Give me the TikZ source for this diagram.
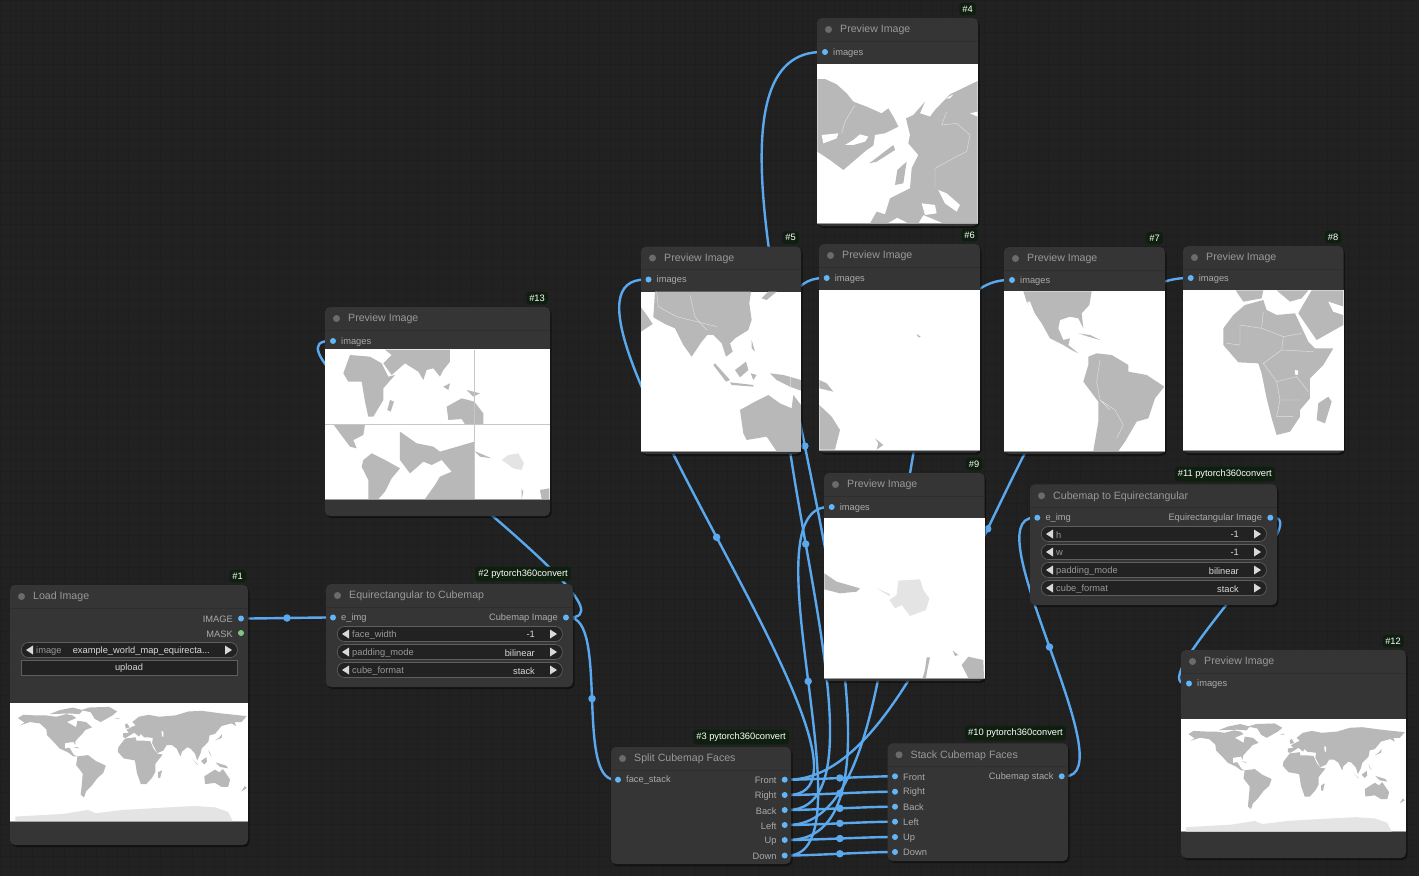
\documentclass[tikz,border=0pt]{standalone}
\usepackage{fontspec}
\setmainfont{Liberation Sans}
\usetikzlibrary{calc,positioning,shadows}

\definecolor{bgdark}{HTML}{212121}
\definecolor{gridc}{HTML}{1E1E1E}
\definecolor{panelc}{HTML}{353535}
\definecolor{sepc}{HTML}{2E2E2E}
\definecolor{titlec}{HTML}{999999}
\definecolor{labelc}{HTML}{ABABAB}
\definecolor{linkc}{HTML}{5AA9EE}
\definecolor{portc}{HTML}{64B5F6}
\definecolor{maskc}{HTML}{81C784}
\definecolor{badgec}{HTML}{0F1F0F}
\definecolor{pillc}{HTML}{222222}
\definecolor{pilld}{HTML}{5E5E5E}
\definecolor{landc}{HTML}{B8B8B8}
\definecolor{icec}{HTML}{E4E4E4}

\pgfdeclarelayer{bg}
\pgfdeclarelayer{wires}
\pgfsetlayers{bg,wires,main}

\tikzset{
	panelbox/.style={fill=panelc,rounded corners=5pt,inner sep=0pt,outer sep=0pt,anchor=north west,
		drop shadow={shadow xshift=1.5pt,shadow yshift=-2pt,fill=black,opacity=.45}},
	imgbox/.style={fill=white,inner sep=0pt,outer sep=0pt,anchor=north west},
	titletext/.style={text=titlec,anchor=west,inner sep=0pt,yshift=-.7pt,font=\fontsize{10.6}{12}\selectfont},
	titledot/.style={circle,fill=white!42!black,inner sep=0pt,minimum size=7pt},
	badge/.style={fill=badgec,text=white,rounded corners=3pt,inner xsep=3pt,inner ysep=3pt,anchor=south east,font=\fontsize{9.3}{10}\selectfont},
	portdot/.style={circle,fill=portc,inner sep=0pt,outer sep=0pt,minimum size=6pt},
	portlabel/.style={text=labelc,inner sep=0pt,yshift=-.8pt,font=\fontsize{9.3}{11}\selectfont},
	pillbox/.style={fill=pillc,draw=pilld,line width=.7pt,rounded corners=7pt,inner sep=0pt,minimum height=15pt,anchor=west},
	pillarrow/.style={fill=white!85!black},
	pillvalue/.style={text=white!85!black,inner sep=0pt,anchor=east,yshift=-.7pt,font=\fontsize{9.3}{11}\selectfont},
	pilllabel/.style={text=titlec,inner sep=0pt,anchor=west,yshift=-.7pt,font=\fontsize{9.3}{11}\selectfont},
	link/.style={draw=linkc,line width=2.4pt},
	linkdot/.style={circle,fill=linkc,inner sep=0pt,minimum size=7.5pt},
	land/.style={fill=landc},
	ice/.style={fill=icec},
	borderline/.style={draw=white!88!black,line width=.45pt},
}

% panel: name, left, top, right, bottom, title, badge
\newcommand{\panel}[7]{
	\node[panelbox,minimum width={(#4-#2)*1pt},minimum height={(#5-#3)*1pt}] (#1) at (#2,#3) {};
	\draw[sepc,line width=.6pt] (#2,#3+23) -- (#4,#3+23);
	\node[titledot] (#1dot) at (#2+11.5,#3+11.5) {};
	\node[titletext] (#1title) at (#2+23,#3+11.5) {#6};
	\node[badge] (#1badge) at ([xshift=-2pt,yshift=2.5pt]#1.north east) {#7};
}
% picture of a panel: name, left, top, right, bottom
\newcommand{\picbox}[5]{
	\node[imgbox,minimum width={(#4-#2)*1pt},minimum height={(#5-#3)*1pt}] (#1) at (#2,#3) {};
	\draw[white!62!black,line width=.8pt] (#2,#5) -- (#4,#5);
}
\newcommand{\inport}[4]{
	\node[portdot] (#1) at (#2,#3) {};
	\node[portlabel,right=5pt of #1] (#1text) {#4};
}
\newcommand{\outport}[4]{
	\node[portdot] (#1) at (#2,#3) {};
	\node[portlabel,left=5pt of #1] (#1text) {#4};
}
% widget: name, left, right, y, label, value
\newcommand{\pill}[6]{
	\node[pillbox,minimum width={(#3-#2)*1pt}] (#1) at (#2,#4) {};
	\fill[pillarrow] (#2+5,#4) -- (#2+12,#4-4.5) -- (#2+12,#4+4.5) -- cycle;
	\fill[pillarrow] (#3-5,#4) -- (#3-12,#4-4.5) -- (#3-12,#4+4.5) -- cycle;
	\node[pilllabel] (#1label) at (#2+15,#4) {#5};
	\node[pillvalue] (#1value) at (#3-27,#4) {#6};
}
\newcommand{\wire}[2]{
	\begin{pgfonlayer}{wires}
	\draw[link] let \p1=(#1),\p2=(#2),\n1={veclen(\x2-\x1,\y2-\y1)*0.25} in
		(#1) .. controls (\x1+\n1,\y1) and (\x2-\n1,\y2) .. (#2) node[pos=0.5,linkdot] {};
	\end{pgfonlayer}
}
% rough continents, in degrees
\newcommand{\worldland}{
	\fill[ice] (-172,-90) -- (-172,-83) -- (-100,-79) -- (-62,-73) -- (-50,-78) -- (-10,-73) -- (60,-69) -- (100,-67) -- (130,-69) -- (150,-76) -- (157,-90) -- cycle;
	\fill[land] (-168,66) -- (-160,71) -- (-140,70) -- (-125,70) -- (-110,68) -- (-95,72) -- (-85,70) -- (-80,66) -- (-94,60) -- (-85,55) -- (-80,52) -- (-78,62) -- (-65,60) -- (-56,52) -- (-66,48) -- (-70,43) -- (-75,38) -- (-81,31) -- (-81,25) -- (-84,30) -- (-97,28) -- (-97,20) -- (-90,21) -- (-87,16) -- (-83,10) -- (-78,8) -- (-84,8) -- (-92,14) -- (-105,20) -- (-115,31) -- (-124,40) -- (-125,49) -- (-135,58) -- (-150,60) -- (-165,55) -- (-158,59) -- cycle
		(-73,78) -- (-60,82) -- (-30,83) -- (-18,76) -- (-25,70) -- (-43,60) -- (-52,65) -- (-58,75) -- cycle
		(-120,72) -- (-105,78) -- (-85,82) -- (-70,78) -- (-75,72) -- (-90,73) -- cycle
		(-78,8) -- (-62,10) -- (-50,1) -- (-35,-6) -- (-39,-17) -- (-48,-25) -- (-57,-37) -- (-65,-45) -- (-68,-54) -- (-73,-50) -- (-71,-30) -- (-70,-18) -- (-80,-5) -- cycle
		(-17,15) -- (-16,22) -- (-6,35) -- (10,37) -- (11,32) -- (20,32) -- (32,31) -- (37,20) -- (43,12) -- (51,11) -- (40,-3) -- (40,-15) -- (35,-24) -- (26,-34) -- (18,-34) -- (12,-17) -- (9,2) -- (-8,5) -- cycle
		(-9,37) -- (-9,43) -- (0,44) -- (-4,48) -- (5,53) -- (10,55) -- (5,60) -- (15,68) -- (30,71) -- (45,68) -- (70,70) -- (90,76) -- (110,77) -- (140,73) -- (178,69) -- (170,60) -- (160,60) -- (162,54) -- (155,58) -- (140,54) -- (130,42) -- (122,40) -- (120,30) -- (110,20) -- (108,12) -- (103,2) -- (100,12) -- (93,20) -- (88,22) -- (80,15) -- (78,8) -- (72,20) -- (65,25) -- (57,25) -- (52,17) -- (43,13) -- (35,28) -- (36,36) -- (28,37) -- (23,37) -- (18,42) -- (15,38) -- (8,44) -- (0,39) -- (-5,36) -- cycle
		(114,-22) -- (130,-12) -- (137,-16) -- (142,-11) -- (153,-27) -- (150,-38) -- (140,-38) -- (130,-32) -- (115,-34) -- cycle
		(109,1) -- (117,7) -- (118,0) -- (114,-4) -- cycle
		(95,5) -- (105,-5) -- (103,-4) -- (97,3) -- cycle
		(131,-1) -- (147,-6) -- (150,-10) -- (138,-8) -- cycle
		(130,32) -- (140,36) -- (141,42) -- (136,36) -- cycle
		(44,-16) -- (50,-13) -- (47,-25) -- (44,-24) -- cycle
		(-5,50) -- (1,52) -- (-3,58) -- (-6,56) -- cycle
		(-22,65) -- (-14,65) -- (-16,66.5) -- cycle
		(120,18) -- (125,8) -- (122,12) -- cycle
		(-84,22) -- (-75,20) -- (-78,22) -- cycle
		(170,-45) -- (175,-37) -- (178,-40) -- cycle;
	\fill[white] (49,46) -- (52,46) -- (52,38) -- (50,38) -- cycle;
}

\begin{document}
\begin{tikzpicture}[x=1pt,y=-1pt]
	\useasboundingbox (0,0) rectangle (1419,876);
	\begin{pgfonlayer}{bg}
		\fill[bgdark] (0,0) rectangle (1419,876);
		\draw[gridc,line width=.5pt,step=10.7pt] (0,0) grid (1419,876);
	\end{pgfonlayer}

	% load image
	\panel{P1}{10}{585}{248}{845}{Load Image}{\#1}
	\outport{o1image}{241}{618.5}{IMAGE}
	\node[portdot,fill=maskc] (o1mask) at (241,633) {};
	\node[portlabel,left=5pt of o1mask] (o1masktext) {MASK};
	\pill{w1image}{21}{237}{650}{image}{example\_world\_map\_equirecta...}
	\node[fill=pillc,draw=pilld,line width=.7pt,inner sep=0pt,minimum width=216pt,minimum height=15pt,text=white!85!black,font=\fontsize{9.3}{11}\selectfont] (w1upload) at (129,668) {upload};
	\picbox{I1}{10}{702.5}{248}{821}
	\begin{scope}[shift={(129,761.7)},x=.661pt,y=.661pt]
		\worldland
	\end{scope}

	% equirectangular to cubemap
	\panel{P2}{326}{584}{573}{687}{Equirectangular to Cubemap}{\#2 pytorch360convert}
	\inport{i2}{333}{617.5}{e\_img}
	\outport{o2}{566}{617.5}{Cubemap Image}
	\pill{w2a}{337}{562}{634}{face\_width}{-1}
	\pill{w2b}{337}{562}{652}{padding\_mode}{bilinear}
	\pill{w2c}{337}{562}{670}{cube\_format}{stack}

	% preview of the stacked cubemap
	\panel{P13}{325}{307}{550}{516}{Preview Image}{\#13}
	\inport{i13}{333}{341}{images}
	\picbox{I13}{325}{349.3}{550}{499.5}
	\begin{scope}[shift={(320,345)},x=.3333pt,y=-.3333pt]
		\fill[land] (90,30) -- (150,35) -- (185,55) -- (205,95) -- (225,90) -- (190,130) -- (190,165) -- (160,215) -- (145,215) -- (135,170) -- (125,110) -- (85,110) -- (70,85) -- cycle
			(195,14) -- (390,14) -- (390,50) -- (370,75) -- (360,95) -- (340,70) -- (320,75) -- (310,105) -- (295,80) -- (255,55) -- (215,90) -- (190,55) -- (215,30) -- cycle
			(210,165) -- (222,170) -- (212,200) -- (202,195) -- cycle
			(380,185) -- (425,160) -- (463,170) -- (490,205) -- (490,238) -- (435,238) -- (425,222) -- (385,225) -- cycle
			(370,125) -- (390,115) -- (385,135) -- cycle
			(440,135) -- (480,145) -- (460,155) -- cycle
			(40,238) -- (135,238) -- (130,270) -- (100,285) -- (110,310) -- (90,305) -- cycle
			(130,345) -- (155,325) -- (195,345) -- (240,370) -- (215,400) -- (195,440) -- (175,462) -- (145,462) -- (145,405) -- (125,365) -- cycle
			(240,260) -- (290,295) -- (340,305) -- (360,320) -- (463,290) -- (463,462) -- (315,462) -- (345,420) -- (360,395) -- (395,380) -- (365,345) -- (335,360) -- (310,350) -- (270,385) -- (240,345) -- cycle
			(463,318) -- (515,340) -- (480,335) -- cycle
			(605,432) -- (610,440) -- (605,462) -- cycle
			(660,435) -- (688,430) -- (688,462) -- (665,462) -- cycle;
		\fill[ice] (565,330) -- (595,325) -- (612,355) -- (605,375) -- (580,370) -- (560,355) -- (545,345) -- cycle;
		\draw[white!78!black,line width=.8pt] (463,14) -- (463,462) (16,238) -- (689,238);
	\end{scope}

	% split faces
	\panel{P3}{611}{747}{791}{864}{Split Cubemap Faces}{\#3 pytorch360convert}
	\inport{i3}{618}{779.7}{face\_stack}
	\outport{o3front}{784.7}{779.7}{Front}
	\outport{o3right}{784.7}{795}{Right}
	\outport{o3back}{784.7}{810}{Back}
	\outport{o3left}{784.7}{825}{Left}
	\outport{o3up}{784.7}{840}{Up}
	\outport{o3down}{784.7}{855.5}{Down}

	% stack faces
	\panel{P10}{887.5}{743.3}{1068}{861}{Stack Cubemap Faces}{\#10 pytorch360convert}
	\inport{i10front}{895}{776.3}{Front}
	\inport{i10right}{895}{791.7}{Right}
	\inport{i10back}{895}{806.7}{Back}
	\inport{i10left}{895}{821.7}{Left}
	\inport{i10up}{895}{837}{Up}
	\inport{i10down}{895}{852}{Down}
	\outport{o10}{1061.7}{776.3}{Cubemap stack}

	% cubemap to equirectangular
	\panel{P11}{1030}{484.3}{1277}{605}{Cubemap to Equirectangular}{\#11 pytorch360convert}
	\inport{i11}{1037.3}{517.7}{e\_img}
	\outport{o11}{1270.3}{517.7}{Equirectangular Image}
	\pill{w11a}{1041}{1266}{534}{h}{-1}
	\pill{w11b}{1041}{1266}{552}{w}{-1}
	\pill{w11c}{1041}{1266}{570}{padding\_mode}{bilinear}
	\pill{w11d}{1041}{1266}{588}{cube\_format}{stack}

	% up
	\panel{P4}{817}{18}{978}{226}{Preview Image}{\#4}
	\inport{i4}{825}{52}{images}
	\picbox{I4}{817}{63.5}{978}{223.5}
	\begin{scope}[shift={(810,55)},x=.3333pt,y=-.3333pt]
		\fill[land] (22,72) -- (45,72) -- (80,88) -- (110,115) -- (130,140) -- (170,155) -- (215,175) -- (235,160) -- (250,185) -- (265,215) -- (225,235) -- (200,265) -- (170,285) -- (135,315) -- (100,345) -- (60,315) -- (22,290) -- cycle
			(178,325) -- (250,270) -- (255,285) -- (200,320) -- cycle
			(288,190) -- (310,180) -- (345,140) -- (330,175) -- (360,185) -- (375,165) -- (420,118) -- (503,78) -- (503,505) -- (400,505) -- (340,480) -- (325,505) -- (295,505) -- (262,488) -- (232,505) -- (180,505) -- (200,470) -- (225,478) -- (240,430) -- (300,400) -- (305,340) -- (325,300) -- (295,265) -- (300,240) -- cycle
			(255,390) -- (262,345) -- (290,320) -- (280,385) -- cycle;
		\fill[white] (385,405) -- (410,415) -- (450,450) -- (440,470) -- (405,445) -- cycle
			(335,445) -- (375,450) -- (380,475) -- (345,480) -- cycle
			(105,270) -- (130,255) -- (150,238) -- (175,245) -- (165,260) -- (130,270) -- cycle
			(35,240) -- (85,235) -- (80,250) -- (40,265) -- cycle
			(195,240) -- (225,235) -- (215,255) -- (190,275) -- cycle
			(480,175) -- (503,170) -- (503,185) -- cycle
			(408,130) -- (430,118) -- (420,130) -- cycle;
		\draw[borderline] (135,150) -- (105,200) -- (95,235) (395,210) -- (440,205) -- (480,240) -- (470,290) -- (430,310) -- (375,340) -- (375,400) (410,170) -- (395,210);
	\end{scope}

	% right
	\panel{P5}{641}{246.5}{801}{454}{Preview Image}{\#5}
	\inport{i5}{648.5}{279.5}{images}
	\picbox{I5}{641}{291.5}{801}{451.7}
	\begin{scope}[shift={(620,220)},x=.3333pt,y=-.3333pt]
		\fill[land] (105,215) -- (393,215) -- (388,250) -- (395,300) -- (385,330) -- (345,355) -- (330,370) -- (338,395) -- (318,410) -- (305,370) -- (280,345) -- (262,345) -- (245,365) -- (215,410) -- (190,375) -- (165,325) -- (135,312) -- (100,292) -- cycle
			(63,262) -- (80,285) -- (98,312) -- (63,335) -- cycle
			(425,235) -- (445,215) -- (470,215) -- (440,240) -- cycle
			(285,430) -- (330,480) -- (318,485) -- (280,435) -- cycle
			(330,487) -- (400,495) -- (400,500) -- (335,495) -- cycle
			(345,450) -- (378,425) -- (385,450) -- (360,472) -- cycle
			(392,460) -- (410,465) -- (400,480) -- cycle
			(395,360) -- (405,395) -- (395,385) -- cycle
			(450,460) -- (490,465) -- (543,480) -- (543,512) -- (510,500) -- (470,480) -- cycle
			(360,570) -- (405,545) -- (445,525) -- (480,550) -- (515,565) -- (520,525) -- (543,555) -- (543,694) -- (470,694) -- (440,650) -- (380,660) -- (370,640) -- cycle;
		\draw[borderline] (110,215) -- (115,260) -- (170,290) -- (250,310) -- (290,320) (210,225) -- (225,290) -- (260,330) (512,470) -- (512,505);
	\end{scope}

	% back
	\panel{P6}{819}{244}{980}{452.7}{Preview Image}{\#6}
	\inport{i6}{826.7}{278}{images}
	\picbox{I6}{819}{289.5}{980}{450}
	\begin{scope}[shift={(620,220)},x=.3333pt,y=-.3333pt]
		\fill[land] (598,555) -- (635,590) -- (660,630) -- (645,689) -- (598,689) -- cycle
			(598,480) -- (620,490) -- (640,515) -- (598,505) -- cycle
			(765,655) -- (790,675) -- (770,689) -- (775,670) -- cycle
			(890,342) -- (902,350) -- (896,353) -- cycle;
	\end{scope}

	% left
	\panel{P7}{1004}{247}{1165}{454}{Preview Image}{\#7}
	\inport{i7}{1012}{280}{images}
	\picbox{I7}{1004}{291}{1165}{451.5}
	\begin{scope}[shift={(1000,285)},x=.3333pt,y=-.3333pt]
		\fill[land] (70,19) -- (275,19) -- (268,60) -- (245,85) -- (250,130) -- (235,100) -- (210,95) -- (180,105) -- (175,130) -- (190,165) -- (210,160) -- (205,180) -- (235,205) -- (215,195) -- (190,180) -- (150,160) -- (125,115) -- (80,50) -- cycle
			(265,215) -- (290,205) -- (335,210) -- (385,240) -- (385,260) -- (440,270) -- (493,305) -- (465,340) -- (445,400) -- (410,410) -- (375,470) -- (355,498) -- (280,498) -- (295,410) -- (295,350) -- (250,290) -- (265,240) -- cycle
			(235,145) -- (270,150) -- (300,165) -- (265,155) -- cycle;
		\draw[borderline] (300,225) -- (290,290) -- (300,345) -- (345,375) -- (370,420) -- (350,460) (300,345) -- (330,375);
		\fill[white] (82,50) -- (90,50) -- (118,122) -- (110,115) -- cycle;
	\end{scope}

	% front
	\panel{P8}{1183}{246}{1343.5}{453}{Preview Image}{\#8}
	\inport{i8}{1190.7}{278}{images}
	\picbox{I8}{1183}{290}{1343.5}{450.5}
	\begin{scope}[shift={(1000,285)},x=.3333pt,y=-.3333pt]
		\fill[land] (735,60) -- (790,45) -- (800,75) -- (830,90) -- (885,85) -- (925,170) -- (945,190) -- (1000,190) -- (970,240) -- (930,280) -- (930,340) -- (900,375) -- (900,395) -- (870,440) -- (830,450) -- (815,400) -- (800,340) -- (785,265) -- (775,235) -- (715,232) -- (670,180) -- (670,130) -- (700,90) -- cycle
			(707,16) -- (730,50) -- (785,40) -- (790,16) -- cycle
			(830,16) -- (870,50) -- (905,40) -- (925,16) -- cycle
			(895,85) -- (912,55) -- (935,16) -- (1030,16) -- (1030,120) -- (950,165) -- cycle
			(985,335) -- (995,350) -- (975,415) -- (950,405) -- (955,355) -- cycle;
		\fill[white] (985,50) -- (1030,65) -- (1030,90) -- (1000,80) -- cycle;
		\fill[white] (885,255) -- (895,257) -- (893,270) -- (885,268) -- cycle;
		\draw[borderline] (790,80) -- (785,130) -- (720,120) -- (720,180) -- (680,175) (785,130) -- (850,155) -- (905,145) (850,155) -- (845,195) -- (790,235) (845,195) -- (940,200) (790,235) -- (830,290) -- (890,275) -- (925,320) (830,290) -- (840,345) -- (900,345) (840,345) -- (830,395) -- (880,395);
	\end{scope}

	% down
	\panel{P9}{824}{473}{984.5}{681}{Preview Image}{\#9}
	\inport{i9}{831.7}{507}{images}
	\picbox{I9}{824}{518.3}{984.5}{678.5}
	\begin{scope}[shift={(820,510)},x=.3333pt,y=-.3333pt]
		\fill[land] (13,190) -- (50,215) -- (120,235) -- (110,245) -- (60,250) -- (13,238) -- cycle
			(320,442) -- (330,442) -- (322,480) -- (318,504) -- (308,504) -- (315,480) -- cycle
			(398,422) -- (415,435) -- (405,438) -- cycle
			(425,465) -- (445,440) -- (490,450) -- (492,504) -- (445,504) -- cycle;
		\fill[ice] (235,212) -- (300,208) -- (310,240) -- (328,265) -- (318,300) -- (270,318) -- (245,285) -- (225,295) -- (208,270) -- (230,255) -- cycle
			(170,235) -- (210,252) -- (208,258) -- cycle;
	\end{scope}

	% result
	\panel{P12}{1181}{650}{1406}{858}{Preview Image}{\#12}
	\inport{i12}{1189}{683.5}{images}
	\picbox{I12}{1181}{719}{1406}{831.5}
	\begin{scope}[shift={(1293.5,775.3)},x=.625pt,y=.625pt]
		\worldland
	\end{scope}

	\wire{o1image}{i2}
	\wire{o2}{i3}
	\wire{o2}{i13}
	\wire{o3front}{i8}
	\wire{o3right}{i5}
	\wire{o3back}{i6}
	\wire{o3left}{i7}
	\wire{o3up}{i4}
	\wire{o3down}{i9}
	\wire{o3front}{i10front}
	\wire{o3right}{i10right}
	\wire{o3back}{i10back}
	\wire{o3left}{i10left}
	\wire{o3up}{i10up}
	\wire{o3down}{i10down}
	\wire{o10}{i11}
	\wire{o11}{i12}
\end{tikzpicture}
\end{document}
